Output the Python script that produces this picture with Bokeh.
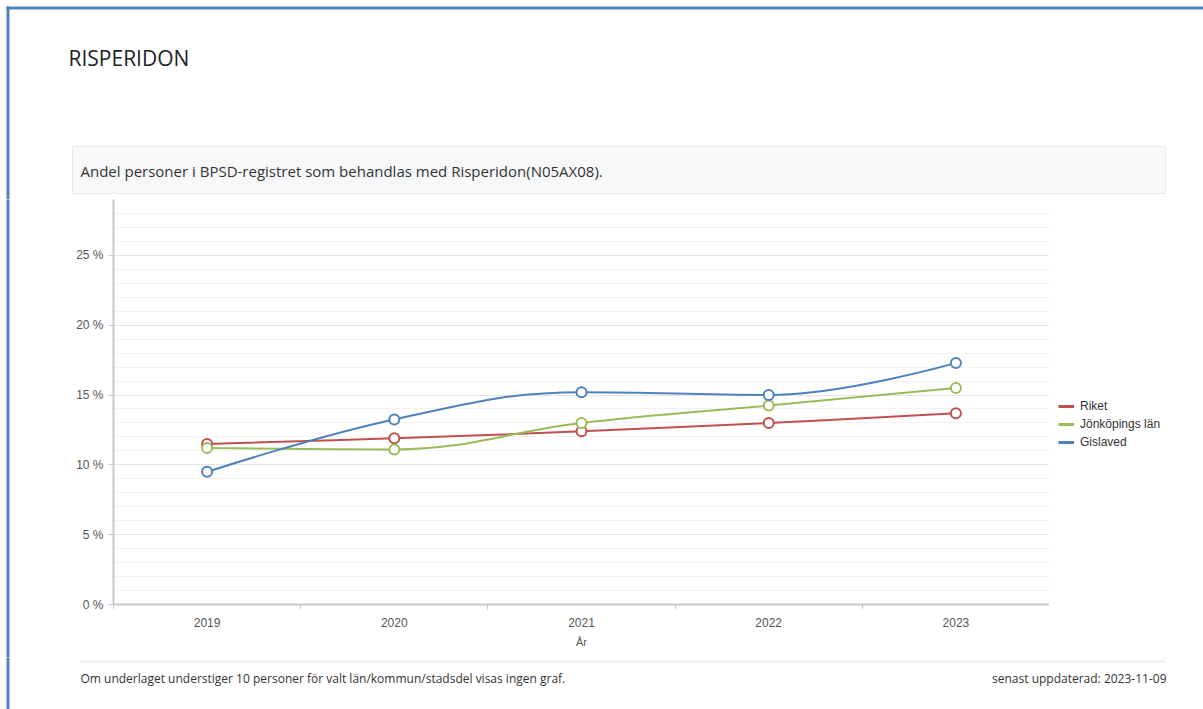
from bokeh.plotting import figure
from bokeh.layouts import column, row
from bokeh.models import Range1d, FixedTicker, Legend, LegendItem, ColumnDataSource
from bokeh.core.properties import value
from bokeh.embed import file_html
from bokeh.resources import INLINE

# ---------------- data ----------------
years = ["2019", "2020", "2021", "2022", "2023"]
riket = [11.5, 11.9, 12.4, 13.0, 13.7]
jonkoping = [11.2, 11.1, 13.0, 14.25, 15.5]
gislaved = [9.5, 13.25, 15.2, 15.0, 17.3]
series_names = ["Riket", "Jönköpings län", "Gislaved"]
series_colors = ["#c0504d", "#9bbb59", "#4f81bd"]
y_ticks = [0, 5, 10, 15, 20, 25]
y_tick_labels = ["0 %", "5 %", "10 %", "15 %", "20 %", "25 %"]

title_text = "RISPERIDON"
subtitle_text = "Andel personer i BPSD-registret som behandlas med Risperidon(N05AX08)."
footer_left = "Om underlaget understiger 10 personer för valt län/kommun/stadsdel visas ingen graf."
footer_right = "senast uppdaterad: 2023-11-09"
x_axis_label = "År"

# ---------------- layout constants ----------------
W, H = 1203, 709
TOP_H = 199          # header height (frame top at y=199)
STRIP_W = 10         # left strip with blue border
MAIN_H = 458         # main chart figure height
FOOT_H = H - TOP_H - MAIN_H
FRAME_L, FRAME_R, FRAME_B = 113, 1049, 604
LEG_W = W - FRAME_R
BLUE = "#4f81bd"
TICK_FONT = "Liberation Sans"


def furniture_fig(w, h):
    f = figure(width=w, height=h, output_backend="svg", toolbar_location=None,
               x_range=Range1d(0, w), y_range=Range1d(h, 0),
               min_border=0, min_border_left=0, min_border_right=0,
               min_border_top=0, min_border_bottom=0, frame_align=False)
    f.axis.visible = False
    f.grid.visible = False
    f.outline_line_color = None
    f.background_fill_color = "white"
    f.border_fill_color = "white"
    return f


# ---------------- header ----------------
top = furniture_fig(W, TOP_H)
top.quad(left=[6], right=[W + 5], top=[6], bottom=[9], fill_color=BLUE, line_color=None)
top.quad(left=[6], right=[9], top=[6], bottom=[TOP_H + 5], fill_color=BLUE, line_color=None)
top.quad(left=[72], right=[1165], top=[146], bottom=[193], fill_color="#f7f8fa",
         line_color="#e6e9ed", line_width=1)
top.text(x=[68], y=[57], text=[title_text], text_font=value("Open Sans"),
         text_font_size="21px", text_color="#222222", text_baseline="middle",
         text_align="left")
top.text(x=[80], y=[170], text=[subtitle_text], text_font=value("Open Sans"),
         text_font_size="15px", text_color="#333333", text_baseline="middle",
         text_align="left")

# ---------------- left strip ----------------
strip = furniture_fig(STRIP_W, MAIN_H)
strip.quad(left=[6], right=[9], top=[-5], bottom=[MAIN_H + 5], fill_color=BLUE,
           line_color=None)

# ---------------- main chart ----------------
xs = list(range(len(years)))
p = figure(width=FRAME_R - STRIP_W, height=MAIN_H, output_backend="svg",
           toolbar_location=None,
           x_range=Range1d(-0.5, len(years) - 0.5), y_range=Range1d(0, 29),
           min_border_left=FRAME_L - STRIP_W, min_border_right=0,
           min_border_top=0, min_border_bottom=MAIN_H - (FRAME_B - TOP_H),
           frame_align=False)
p.outline_line_color = None
p.background_fill_color = "white"
p.border_fill_color = "white"

p.xaxis.ticker = FixedTicker(ticks=xs, minor_ticks=[i - 0.5 for i in range(len(years) + 1)])
p.xaxis.major_label_overrides = {i: y for i, y in enumerate(years)}
p.xaxis.major_tick_line_color = None
p.xaxis.minor_tick_in = 0
p.xaxis.minor_tick_out = 5
p.xaxis.minor_tick_line_color = "#c8c8c8"
p.xaxis.axis_line_color = "#c8c8c8"
p.xaxis.axis_line_width = 2
p.xaxis.major_label_text_font = TICK_FONT
p.xaxis.major_label_text_font_size = "12px"
p.xaxis.major_label_text_color = "#555555"
p.xaxis.major_label_standoff = 7
p.xaxis.axis_label = x_axis_label
p.xaxis.axis_label_text_font = TICK_FONT
p.xaxis.axis_label_text_font_size = "11px"
p.xaxis.axis_label_text_font_style = "normal"
p.xaxis.axis_label_text_color = "#555555"
p.xaxis.axis_label_standoff = 6

p.yaxis.ticker = FixedTicker(ticks=y_ticks, minor_ticks=list(range(0, 30)))
p.yaxis.major_label_overrides = {t: l for t, l in zip(y_ticks, y_tick_labels)}
p.yaxis.major_tick_in = 0
p.yaxis.major_tick_out = 5
p.yaxis.major_tick_line_color = "#c8c8c8"
p.yaxis.minor_tick_line_color = None
p.yaxis.axis_line_color = "#c8c8c8"
p.yaxis.axis_line_width = 2
p.yaxis.major_label_text_font = TICK_FONT
p.yaxis.major_label_text_font_size = "12px"
p.yaxis.major_label_text_color = "#555555"
p.yaxis.major_label_standoff = 5

p.xgrid.grid_line_color = None
p.ygrid.grid_line_color = "#e4e4e4"
p.ygrid.minor_grid_line_color = "#f2f2f2"


def spline(xv, yv, smoothing=1.5):
    """Highcharts-style spline control points, computed from the data."""
    n = len(xv)
    denom = smoothing + 1
    lcx, lcy = list(xv), list(yv)
    rcx, rcy = list(xv), list(yv)
    for i in range(1, n - 1):
        px, py = xv[i], yv[i]
        lx, ly = xv[i - 1], yv[i - 1]
        nx, ny = xv[i + 1], yv[i + 1]
        lX = (smoothing * px + lx) / denom
        lY = (smoothing * py + ly) / denom
        rX = (smoothing * px + nx) / denom
        rY = (smoothing * py + ny) / denom
        if rX != lX:
            corr = ((rY - lY) * (rX - px)) / (rX - lX) + py - rY
            lY += corr
            rY += corr
        if lY > ly and lY > py:
            lY = max(ly, py); rY = 2 * py - lY
        elif lY < ly and lY < py:
            lY = min(ly, py); rY = 2 * py - lY
        if rY > ny and rY > py:
            rY = max(ny, py); lY = 2 * py - rY
        elif rY < ny and rY < py:
            rY = min(ny, py); lY = 2 * py - rY
        lcx[i], lcy[i], rcx[i], rcy[i] = lX, lY, rX, rY
    return dict(x0=xv[:-1], y0=yv[:-1], x1=xv[1:], y1=yv[1:],
                cx0=rcx[:-1], cy0=rcy[:-1], cx1=lcx[1:], cy1=lcy[1:])


for name, vals, col in zip(series_names, [riket, jonkoping, gislaved], series_colors):
    src = ColumnDataSource(spline(xs, vals))
    p.bezier(x0="x0", y0="y0", x1="x1", y1="y1", cx0="cx0", cy0="cy0",
             cx1="cx1", cy1="cy1", source=src, line_color=col, line_width=2)
for name, vals, col in zip(series_names, [riket, jonkoping, gislaved], series_colors):
    p.scatter(xs, vals, marker="circle", size=10, fill_color="white",
              line_color=col, line_width=2)

# ---------------- legend column ----------------
leg = furniture_fig(LEG_W, MAIN_H)
items = []
for name, col in zip(series_names, series_colors):
    # off-canvas proxy line: only its style is used by the legend
    r = leg.line(x=[-200, -190], y=[-200, -200], line_color=col, line_width=3)
    items.append(LegendItem(label=name, renderers=[r]))
legend = Legend(items=items, location=(9, MAIN_H - (449 - TOP_H)), orientation="vertical",
                background_fill_alpha=0, border_line_color=None,
                label_text_font=TICK_FONT, label_text_font_size="12px",
                label_text_color="#333333", glyph_width=16, glyph_height=12,
                label_height=12, spacing=4, padding=0, margin=0, label_standoff=6)
leg.add_layout(legend, "center")

# ---------------- footer ----------------
foot = furniture_fig(W, FOOT_H)
off = TOP_H + MAIN_H
foot.quad(left=[6], right=[9], top=[-5], bottom=[FOOT_H + 5], fill_color=BLUE,
          line_color=None)
foot.quad(left=[80], right=[1165], top=[660 - off], bottom=[662 - off],
          fill_color="#eeeeee", line_color=None)
foot.text(x=[80], y=[678 - off], text=[footer_left], text_font=value("Open Sans"),
          text_font_size="12px", text_color="#333333", text_baseline="middle",
          text_align="left")
foot.text(x=[1166], y=[678 - off], text=[footer_right], text_font=value("Open Sans"),
          text_font_size="12px", text_color="#333333", text_baseline="middle",
          text_align="right")

layout = column(top, row(strip, p, leg, spacing=0), foot, spacing=0)
open("out.html", "w").write(file_html(layout, INLINE))
